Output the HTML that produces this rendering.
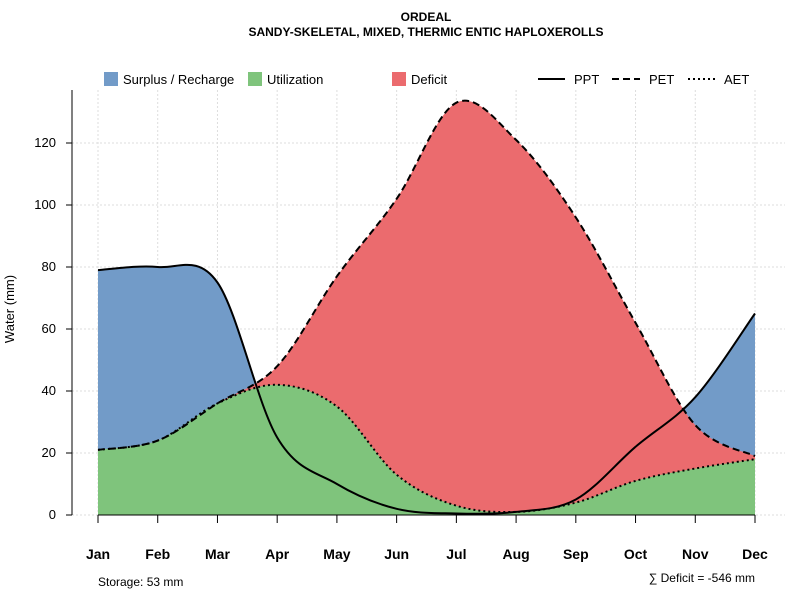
<!DOCTYPE html>
<html><head><meta charset="utf-8"><style>
body{margin:0;background:#fff;font-family:"Liberation Sans",sans-serif}
</style></head><body>
<svg id="chart" width="800" height="600" xmlns="http://www.w3.org/2000/svg" font-family="Liberation Sans, sans-serif">
<text x="426" y="21" text-anchor="middle" font-size="12" font-weight="bold">ORDEAL</text>
<text x="426" y="36" text-anchor="middle" font-size="12" font-weight="bold">SANDY-SKELETAL, MIXED, THERMIC ENTIC HAPLOXEROLLS</text>
<g id="grid"></g>
<g id="areas"></g>
<g id="lines"></g>
<g id="axes"></g>
<text transform="translate(14,309) rotate(-90)" text-anchor="middle" font-size="13">Water (mm)</text>
<g font-size="13">
<rect x="104" y="72" width="14" height="14" fill="#729BC8"/>
<text x="123" y="84">Surplus / Recharge</text>
<rect x="248" y="72" width="14" height="14" fill="#7FC47C"/>
<text x="267" y="84">Utilization</text>
<rect x="392" y="72" width="14" height="14" fill="#EB6B6E"/>
<text x="411" y="84">Deficit</text>
<line x1="538" y1="79" x2="565" y2="79" stroke="#000" stroke-width="2"/>
<text x="574" y="84">PPT</text>
<line x1="612" y1="79" x2="640" y2="79" stroke="#000" stroke-width="2" stroke-dasharray="7,4"/>
<text x="649" y="84">PET</text>
<line x1="688" y1="79" x2="716" y2="79" stroke="#000" stroke-width="2" stroke-dasharray="2,3"/>
<text x="724" y="84">AET</text>
</g>
<text x="98" y="586" font-size="12">Storage: 53 mm</text>
<text x="755" y="582" text-anchor="end" font-size="12">∑ Deficit = -546 mm</text>
</svg>
<script>
const months=["Jan","Feb","Mar","Apr","May","Jun","Jul","Aug","Sep","Oct","Nov","Dec"];
const ppt=[79,80,75,25,10,2,0.5,1,5,22,38,65];
const pet=[21,24,36,48,77,102,133,121,96,62,29,19];
const aet=[21,24,36,42,35,13,3,1,4,11,15,18];
const yTicks=[0,20,40,60,80,100,120];
const NS="http://www.w3.org/2000/svg";
const x=i=>98+i*(755-98)/11;
const y=v=>515-v*(515-143)/120;
function mk(p,tag,attrs){const e=document.createElementNS(NS,tag);for(const k in attrs)e.setAttribute(k,attrs[k]);p.appendChild(e);return e;}
function spline(arr){
  const pts=arr.map((v,i)=>[x(i),y(v)]);
  let d="M"+pts[0][0]+","+pts[0][1];
  for(let i=0;i<pts.length-1;i++){
    const p0=pts[Math.max(0,i-1)],p1=pts[i],p2=pts[i+1],p3=pts[Math.min(pts.length-1,i+2)];
    const c1=[p1[0]+(p2[0]-p0[0])/6,p1[1]+(p2[1]-p0[1])/6];
    const c2=[p2[0]-(p3[0]-p1[0])/6,p2[1]-(p3[1]-p1[1])/6];
    d+=" C"+c1+" "+c2+" "+p2;
  }
  return d;
}
const grid=document.getElementById('grid');
yTicks.forEach(t=>{const l=mk(grid,'line',{x1:72,x2:785,y1:y(t),y2:y(t),stroke:'#ddd','stroke-dasharray':'2,2'});

});
months.forEach((m,i)=>{const l=mk(grid,'line',{x1:x(i),x2:x(i),y1:90,y2:515,stroke:'#ddd','stroke-dasharray':'2,2'});

});
const areas=document.getElementById('areas');
const close=" L"+x(11)+","+y(0)+" L"+x(0)+","+y(0)+" Z";
const a1=mk(areas,'path',{d:spline(ppt)+close,fill:'#729BC8'});


const a2=mk(areas,'path',{d:spline(pet)+close,fill:'#EB6B6E'});


const a3=mk(areas,'path',{d:spline(aet)+close,fill:'#7FC47C'});


const lines=document.getElementById('lines');
const l1=mk(lines,'path',{d:spline(ppt),fill:'none',stroke:'#000','stroke-width':2});


const l2=mk(lines,'path',{d:spline(pet),fill:'none',stroke:'#000','stroke-width':2,'stroke-dasharray':'7,4'});


const l3=mk(lines,'path',{d:spline(aet),fill:'none',stroke:'#000','stroke-width':2,'stroke-dasharray':'2,3'});


const axes=document.getElementById('axes');
mk(axes,'line',{x1:72,x2:72,y1:90,y2:515,stroke:'#000'});
mk(axes,'line',{x1:98,x2:755,y1:515,y2:515,stroke:'#000'});
yTicks.forEach(t=>{mk(axes,'line',{x1:66,x2:72,y1:y(t),y2:y(t),stroke:'#000'});
const tx=mk(axes,'text',{x:56,y:y(t)+4,'text-anchor':'end','font-size':13});tx.textContent=t;

});
months.forEach((m,i)=>{mk(axes,'line',{x1:x(i),x2:x(i),y1:515,y2:523,stroke:'#000'});
const tx=mk(axes,'text',{x:x(i),y:559,'text-anchor':'middle','font-size':14,'font-weight':'bold'});tx.textContent=m;

});
</script>
</body></html>
